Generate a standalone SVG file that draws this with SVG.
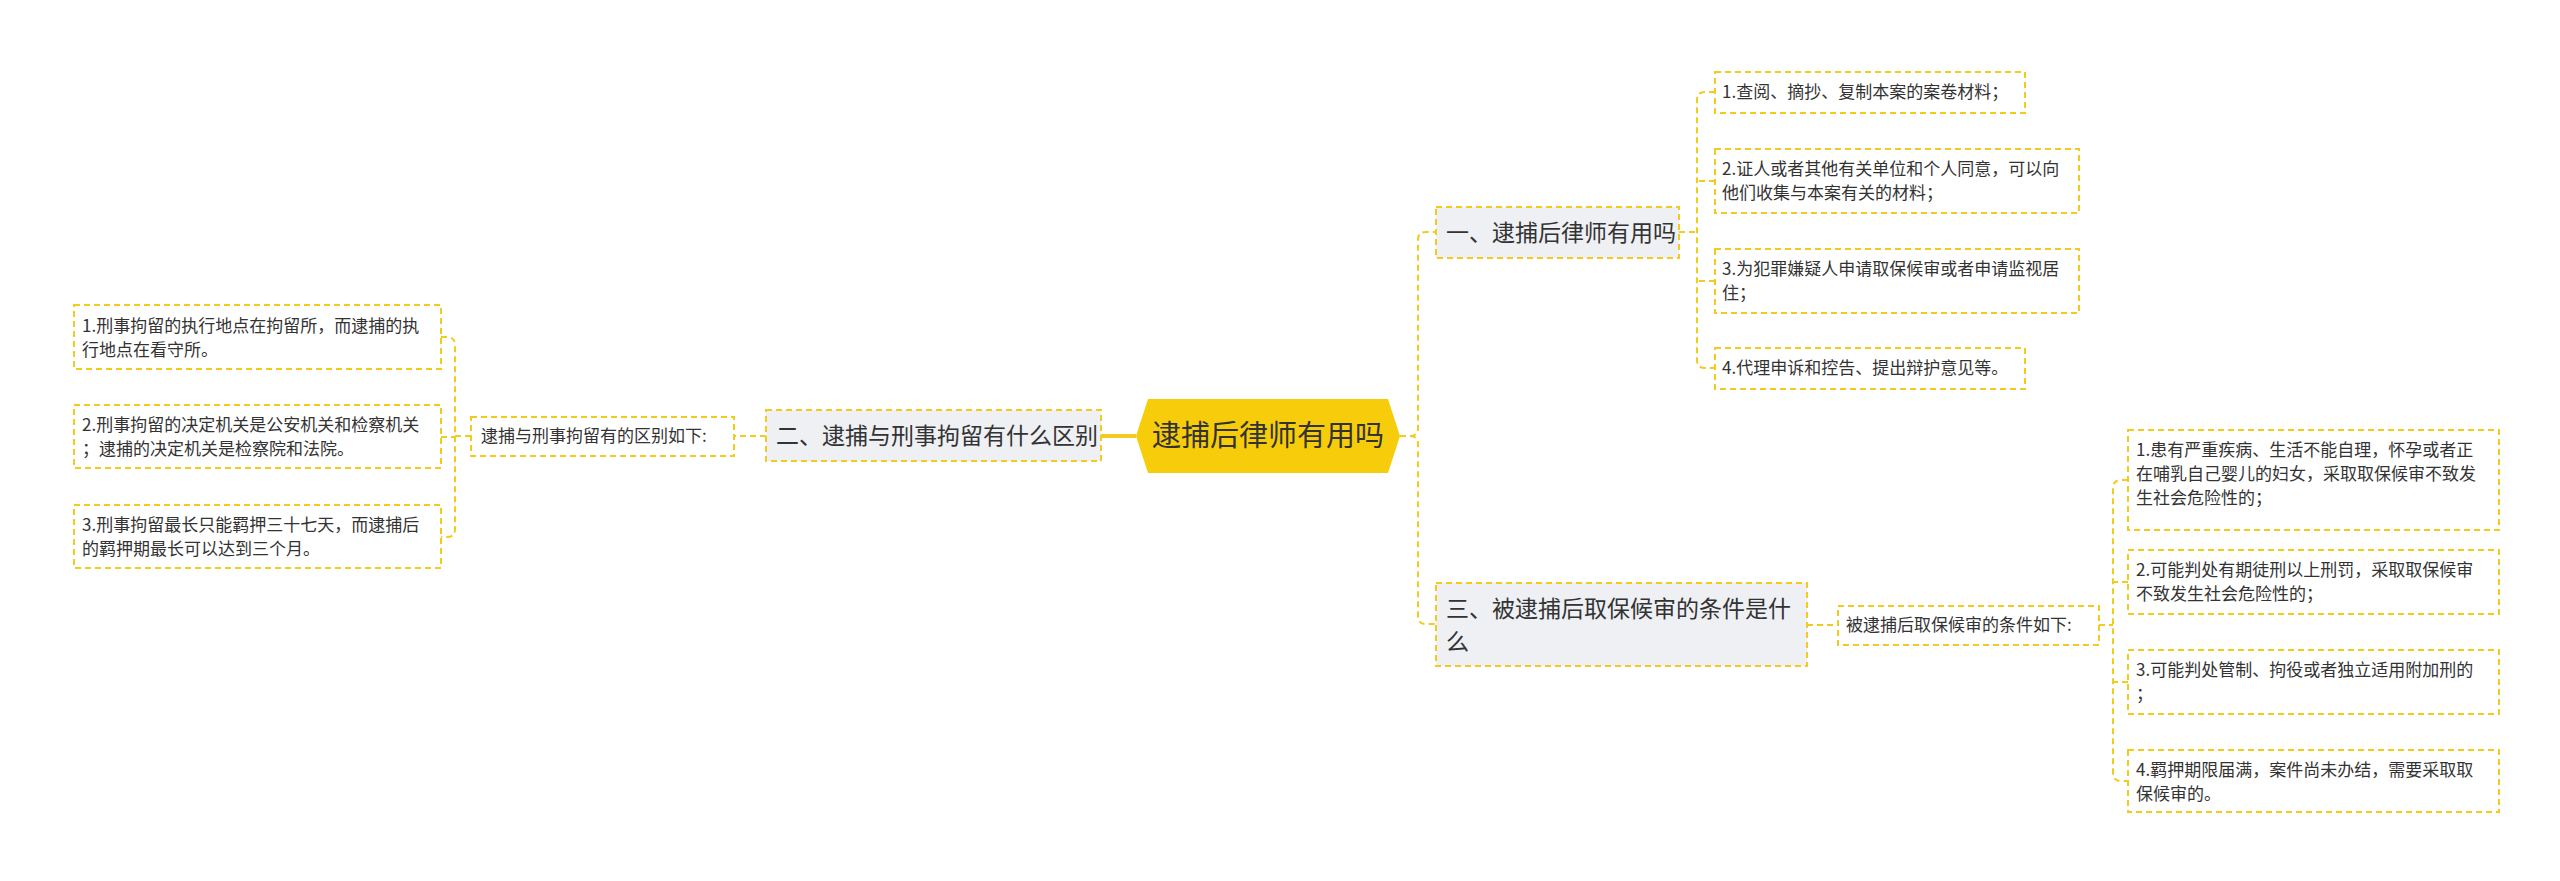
<svg xmlns="http://www.w3.org/2000/svg" width="2560" height="881" viewBox="0 0 2560 881">
<style>
text{font-family:"Noto Sans CJK SC","Liberation Sans",sans-serif;fill:#333}
.box{fill:#fff;stroke:#f2cb1d;stroke-width:2;stroke-dasharray:6 4}
.sub{fill:#eef0f3;stroke:#f2cb1d;stroke-width:2;stroke-dasharray:6 4}
.c{fill:none;stroke:#f2cb1d;stroke-width:2;stroke-dasharray:6 4}
.leaf{font-size:17px}
.mid{font-size:17px}
.s{font-size:23px}
</style>
<rect width="2560" height="881" fill="#fff"/>
<g id="connectors">
<path d="M1101 436H1136" fill="none" stroke="#f2cb1d" stroke-width="4"/>
<path class="c" d="M1400 436H1410Q1418 436 1418 428V240Q1418 232 1426 232H1436"/>
<path class="c" d="M1400 436H1410Q1418 436 1418 444V616Q1418 624 1426 624H1436"/>
<path class="c" d="M766 436H734"/>
<path class="c" d="M471 436H455M441 337H447Q455 337 455 345V529Q455 537 447 537H441M441 437H455"/>
<path class="c" d="M1679 232H1697M1715 92H1705Q1697 92 1697 100V360Q1697 368 1705 368H1715M1715 181H1697M1715 281H1697"/>
<path class="c" d="M1807 625H1838"/>
<path class="c" d="M2099 625H2113M2128 480H2121Q2113 480 2113 488V773Q2113 781 2121 781H2128M2128 582H2113M2128 682H2113"/>
</g>
<g id="root">
<polygon points="1148,399 1388,399 1400,436 1388,473 1148,473 1136,436" fill="#f7cd0b"/>
<text x="1268" y="446" font-size="29" text-anchor="middle">逮捕后律师有用吗</text>
</g>
<g id="n2"><rect class="sub" x="766" y="410" width="335" height="51"/><text class="s" x="776" y="444">二、逮捕与刑事拘留有什么区别</text></g>
<g id="n2a"><rect class="box" x="471" y="417" width="263" height="39"/><text class="mid" x="481" y="442">逮捕与刑事拘留有的区别如下:</text></g>
<g id="n2l1"><rect class="box" x="74" y="305" width="367" height="64"/><text class="leaf" x="82" y="332">1.刑事拘留的执行地点在拘留所，而逮捕的执</text><text class="leaf" x="82" y="356">行地点在看守所。</text></g>
<g id="n2l2"><rect class="box" x="74" y="405" width="367" height="63"/><text class="leaf" x="82" y="431">2.刑事拘留的决定机关是公安机关和检察机关</text><text class="leaf" x="82" y="455">；逮捕的决定机关是检察院和法院。</text></g>
<g id="n2l3"><rect class="box" x="74" y="505" width="367" height="63"/><text class="leaf" x="82" y="531">3.刑事拘留最长只能羁押三十七天，而逮捕后</text><text class="leaf" x="82" y="555">的羁押期最长可以达到三个月。</text></g>
<g id="n1"><rect class="sub" x="1436" y="207" width="243" height="51"/><text class="s" x="1446" y="241">一、逮捕后律师有用吗</text></g>
<g id="n1l1"><rect class="box" x="1715" y="72" width="310" height="41"/><text class="leaf" x="1722" y="98">1.查阅、摘抄、复制本案的案卷材料；</text></g>
<g id="n1l2"><rect class="box" x="1715" y="149" width="364" height="64"/><text class="leaf" x="1722" y="175">2.证人或者其他有关单位和个人同意，可以向</text><text class="leaf" x="1722" y="199">他们收集与本案有关的材料；</text></g>
<g id="n1l3"><rect class="box" x="1715" y="249" width="364" height="64"/><text class="leaf" x="1722" y="275">3.为犯罪嫌疑人申请取保候审或者申请监视居</text><text class="leaf" x="1722" y="299">住；</text></g>
<g id="n1l4"><rect class="box" x="1715" y="348" width="310" height="41"/><text class="leaf" x="1722" y="374">4.代理申诉和控告、提出辩护意见等。</text></g>
<g id="n3"><rect class="sub" x="1436" y="583" width="371" height="83"/><text class="s" x="1446" y="617">三、被逮捕后取保候审的条件是什</text><text class="s" x="1446" y="650">么</text></g>
<g id="n3a"><rect class="box" x="1838" y="606" width="261" height="39"/><text class="mid" x="1846" y="631">被逮捕后取保候审的条件如下:</text></g>
<g id="n3l1"><rect class="box" x="2128" y="430" width="371" height="100"/><text class="leaf" x="2136" y="456">1.患有严重疾病、生活不能自理，怀孕或者正</text><text class="leaf" x="2136" y="480">在哺乳自己婴儿的妇女，采取取保候审不致发</text><text class="leaf" x="2136" y="504">生社会危险性的；</text></g>
<g id="n3l2"><rect class="box" x="2128" y="550" width="371" height="64"/><text class="leaf" x="2136" y="576">2.可能判处有期徒刑以上刑罚，采取取保候审</text><text class="leaf" x="2136" y="600">不致发生社会危险性的；</text></g>
<g id="n3l3"><rect class="box" x="2128" y="650" width="371" height="64"/><text class="leaf" x="2136" y="676">3.可能判处管制、拘役或者独立适用附加刑的</text><text class="leaf" x="2136" y="700">；</text></g>
<g id="n3l4"><rect class="box" x="2128" y="750" width="371" height="62"/><text class="leaf" x="2136" y="776">4.羁押期限届满，案件尚未办结，需要采取取</text><text class="leaf" x="2136" y="800">保候审的。</text></g>
</svg>
